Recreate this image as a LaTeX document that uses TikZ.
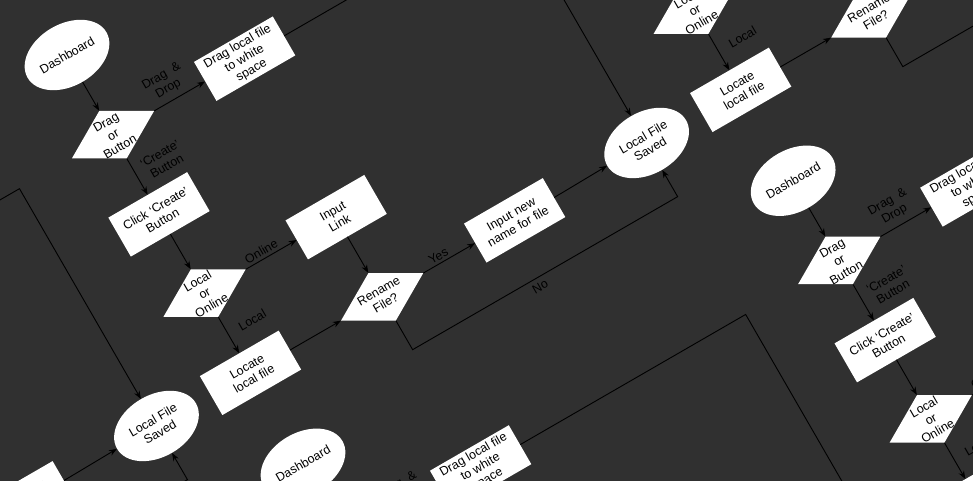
\documentclass[tikz,border=0pt]{standalone}
\usepackage{fontspec}
\setmainfont{Liberation Sans}
\usetikzlibrary{shapes.geometric,arrows.meta}
\definecolor{bgc}{HTML}{303030}
\tikzset{
 fc/.style={font=\fontsize{12.4}{14}\selectfont, align=center, text=black, inner sep=0pt, transform shape},
 boxn/.style={fc, fill=white, rectangle, minimum width=91pt, minimum height=45pt},
 elln/.style={fc, fill=white, ellipse, minimum width=91pt, minimum height=62pt},
 dian/.style={fc, fill=white, diamond, minimum width=95pt, minimum height=55pt},
 lbl/.style={fc},
 conn/.style={draw=black, line width=0.9pt, -{Stealth[length=8pt,width=6pt]}},
}
\newcommand\flowunit[3]{%
\begin{scope}[shift={(#1,#2)}]
\node[elln] (#3D) at (0,0) {Dashboard};
\node[dian, label={[fc]center:{Drag\\or\\Button}}] (#3Q1) at (0,-92) {};
\node[boxn] (#3B1) at (152,-92) {Drag local file\\to white\\space};
\node[boxn] (#3B2) at (0,-184) {Click `Create'\\Button};
\node[dian, label={[fc]center:{Local\\or\\Online}}] (#3Q2) at (0,-275) {};
\node[boxn] (#3B3) at (152,-275) {Input\\Link};
\node[boxn] (#3B4) at (0,-367) {Locate\\local file};
\node[dian, label={[fc]center:{Rename\\File?}}] (#3Q3) at (152,-367) {};
\node[boxn] (#3B5) at (305,-367) {Input new\\name for file};
\node[elln] (#3E) at (458,-366) {Local File\\Saved};
\coordinate (#3c1) at (458,-92);
\coordinate (#3c2) at (152,-428);
\draw[conn] (#3D) -- (#3Q1);
\draw[conn] (#3Q1.east) -- (#3B1.west);
\draw[conn] (#3Q1.south) -- (#3B2.north);
\draw[conn] (#3B2) -- (#3Q2);
\draw[conn] (#3Q2.east) -- (#3B3.west);
\draw[conn] (#3Q2.south) -- (#3B4.north);
\draw[conn] (#3B3.south) -- (#3Q3.north);
\draw[conn] (#3B4.east) -- (#3Q3.west);
\draw[conn] (#3Q3.east) -- (#3B5.west);
\draw[conn] (#3B5.east) -- (#3E.west);
\draw[conn] (#3Q3.south) -- (#3c2) -| (#3E.south);
\draw[conn] (#3B1.east) -- (#3c1) -- (#3E.north);
\node[lbl] (#3L1) at (71,-73) {Drag\ \ \&\\Drop};
\node[lbl] (#3L2) at (31,-139) {`Create'\\Button};
\node[lbl] (#3L3) at (70,-267) {Online};
\node[lbl] (#3L4) at (28,-322) {Local};
\node[lbl] (#3L5) at (221,-360) {Yes};
\node[lbl] (#3L6) at (294,-437) {No};
\end{scope}}
\begin{document}
\begin{tikzpicture}[x=1pt,y=1pt]
\useasboundingbox (0,-481) rectangle (973,0);
\fill[bgc] (0,-481) rectangle (973,0);
\clip (0,-481) rectangle (973,0);
\begin{scope}[shift={(67,-55)}, rotate=30]
\flowunit{0}{0}{a}
\flowunit{566}{0}{b}
\flowunit{-566}{0}{c}
\flowunit{0}{-472}{d}
\flowunit{566}{-472}{e}
\end{scope}
\end{tikzpicture}
\end{document}
